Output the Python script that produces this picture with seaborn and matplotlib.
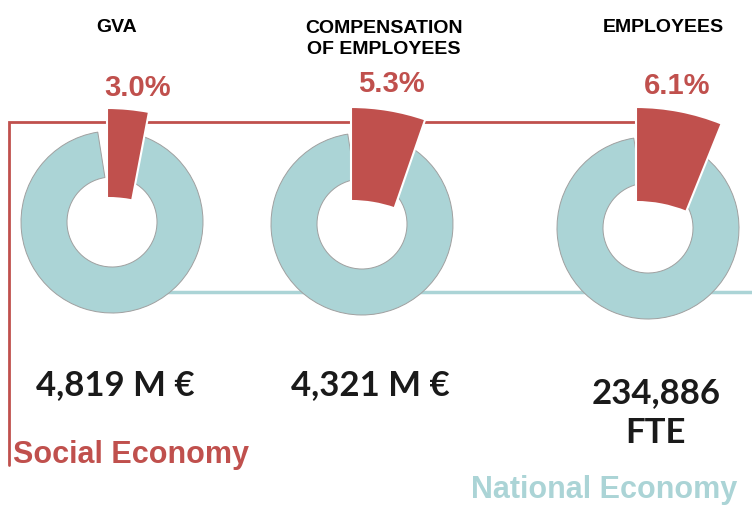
import matplotlib
matplotlib.use('Agg')
import matplotlib.pyplot as plt
import seaborn as sns

# data
indicators = ['GVA', 'COMPENSATION\nOF EMPLOYEES', 'EMPLOYEES']
social_share = [3.0, 5.3, 6.1]
share_labels = ['3.0%', '5.3%', '6.1%']
totals = ['4,819 M €', '4,321 M €', '234,886\nFTE']

RED = '#C0504D'
TEAL = '#ABD4D6'
W, H = 752, 505

# layout in pixel units (y measured from the top)
ring_x = [112, 362, 648]
ring_y = [222, 224, 228]
ring_r, ring_w = 91, 46
gap_deg = 9
# red slice: offset of its apex from the ring centre, outer radius, inner radius
slice_dx = [-5, -11, -12]
slice_dy = [110, 110, 108]
slice_R = [224, 227, 229]
slice_r = [134, 133, 134]
title_xy = [(117, 27), (384, 39), (663, 27)]
pct_xy = [(138, 88), (391, 84), (677, 86)]
total_xy = [(115, 385), (370, 385), (656, 413)]


def py(y):
    return H - y


sns.set_theme(style='white')
plt.rcParams['font.family'] = ['Liberation Sans', 'DejaVu Sans']

fig = plt.figure(figsize=(W / 100, H / 100), dpi=100)
ax = fig.add_axes([0, 0, 1, 1])

# bracket lines
ax.plot([9, 9, 640], [py(465), py(122), py(122)], color=RED, lw=2, zorder=1,
        solid_joinstyle='miter')
ax.plot([ring_x[0], W], [py(292), py(292)], color=TEAL, lw=2.5, zorder=1)

for i, share in enumerate(social_share):
    cx, cy = ring_x[i], py(ring_y[i])
    # national economy ring
    wedges, _ = ax.pie([share, 100 - share], colors=['none', TEAL],
                       startangle=90 + gap_deg, counterclock=False,
                       radius=ring_r, center=(cx, cy),
                       wedgeprops=dict(width=ring_w, edgecolor='#A0A0A0', linewidth=0.7))
    wedges[0].set_visible(False)
    for w in wedges:
        w.set_zorder(2)
    # social economy slice, pulled out and enlarged
    R, r = slice_R[i], slice_r[i]
    wedges, _ = ax.pie([share, 100 - share], colors=[RED, 'none'],
                       startangle=90, counterclock=False,
                       radius=R, center=(cx + slice_dx[i], cy - slice_dy[i]),
                       wedgeprops=dict(width=R - r, edgecolor='white', linewidth=1.5))
    wedges[1].set_visible(False)
    for w in wedges:
        w.set_zorder(3)

    tx, ty = title_xy[i]
    ax.text(tx, py(ty), indicators[i], ha='center', va='center', fontsize=14,
            fontweight='bold', color='black', linespacing=1.3)
    px_, py_ = pct_xy[i]
    ax.text(px_, py(py_), share_labels[i], ha='center', va='center', fontsize=21,
            fontweight='bold', color=RED)
    vx, vy = total_xy[i]
    ax.text(vx, py(vy), totals[i], ha='center', va='center', fontsize=25,
            fontweight='bold', color='#1a1a1a', linespacing=1.3,
            family=['Lato', 'DejaVu Sans'])

ax.text(13, py(455), 'Social Economy', ha='left', va='center', fontsize=22,
        fontweight='bold', color=RED)
ax.text(471, py(490), 'National Economy', ha='left', va='center', fontsize=22,
        fontweight='bold', color=TEAL)

ax.set_xlim(0, W)
ax.set_ylim(0, H)
ax.set_aspect('equal')
ax.axis('off')

plt.savefig('out.png', dpi=100)
